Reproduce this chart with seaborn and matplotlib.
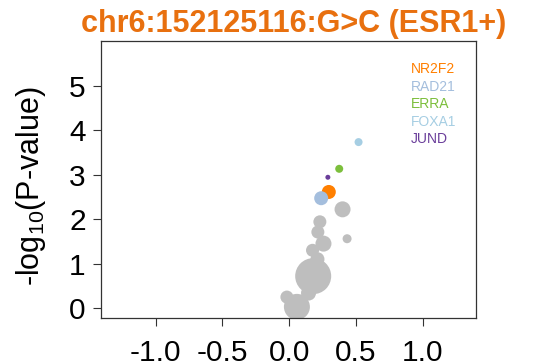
import matplotlib
matplotlib.use("Agg")
import matplotlib.pyplot as plt
import seaborn as sns
import pandas as pd

# ---- data ----
title = "chr6:152125116:G>C (ESR1+)"
gray_x = [0.40, 0.23, 0.215, 0.257, 0.434, 0.175, 0.212, 0.18, 0.145, -0.017, 0.058]
gray_y = [2.22, 1.94, 1.71, 1.45, 1.56, 1.30, 1.10, 0.72, 0.34, 0.25, 0.03]
gray_d = [16, 13, 13, 16, 9, 13, 14, 36, 15, 13, 26]

tf_names = ["NR2F2", "RAD21", "ERRA", "FOXA1", "JUND"]
tf_x = [0.297, 0.24, 0.375, 0.52, 0.29]
tf_y = [2.61, 2.47, 3.13, 3.73, 2.94]
tf_d = [14, 14, 8, 8, 5]
tf_colors = ["#FF7F00", "#A4BEDD", "#7CBF3C", "#A6CEE3", "#6A3D9A"]

x_ticks = [-1.0, -0.5, 0.0, 0.5, 1.0]
y_ticks = [0, 1, 2, 3, 4, 5]

# ---- style ----
sns.set_theme(style="ticks")
plt.rcParams["font.family"] = ["Liberation Sans", "DejaVu Sans"]
plt.rcParams["mathtext.fontset"] = "custom"
plt.rcParams["mathtext.rm"] = "Liberation Sans"
plt.rcParams["mathtext.it"] = "Liberation Sans"
plt.rcParams["text.color"] = "black"
plt.rcParams["xtick.labelcolor"] = "black"
plt.rcParams["ytick.labelcolor"] = "black"

fig = plt.figure(figsize=(5.39, 3.63), dpi=100)
ax = fig.add_axes([101 / 539, 1 - 318 / 363, 375 / 539, 277 / 363])

px = 72 / 100  # pixels -> points

gdf = pd.DataFrame({"x": gray_x, "y": gray_y})
sns.scatterplot(data=gdf, x="x", y="y", s=[(d * px) ** 2 for d in gray_d],
                color="#BEBEBE", edgecolor="none", linewidth=0, ax=ax, legend=False)

tdf = pd.DataFrame({"x": tf_x, "y": tf_y, "tf": tf_names})
for i, row in tdf.iterrows():
    sns.scatterplot(x=[row["x"]], y=[row["y"]], s=(tf_d[i] * px) ** 2,
                    color=tf_colors[i], edgecolor="none", linewidth=0, ax=ax, legend=False)

ax.set_xlim(-1.41, 1.40)
ax.set_ylim(-0.22, 6.0)
ax.set_xticks(x_ticks)
ax.set_xticklabels([f"{v:.1f}" for v in x_ticks])
ax.set_yticks(y_ticks)
ax.set_yticklabels([str(v) for v in y_ticks])
ax.tick_params(axis="x", labelsize=21.5, length=6, width=0.8, pad=9, color="#333333", labelcolor="black")
ax.tick_params(axis="y", labelsize=21.5, length=6, width=0.8, pad=5, color="#333333", labelcolor="black")
for s in ax.spines.values():
    s.set_visible(True)
    s.set_color("#333333")
    s.set_linewidth(0.9)

ax.set_xlabel("")
ax.set_ylabel("")
fig.text(31 / 539, 1 - 186 / 363, r"-log$_{10}$(P-value)", rotation=90,
         fontsize=22, ha="center", va="center", color="black")
fig.text(294 / 539, 1 - 32 / 363, title, fontsize=22, fontweight="bold",
         color="#E8700F", ha="center", va="baseline")

for i, (name, col) in enumerate(zip(tf_names, tf_colors)):
    ax.text(0.827, 0.899 - i * 0.0635, name, transform=ax.transAxes,
            fontsize=10, color=col, va="center", ha="left")

fig.savefig("out.png", dpi=100)
